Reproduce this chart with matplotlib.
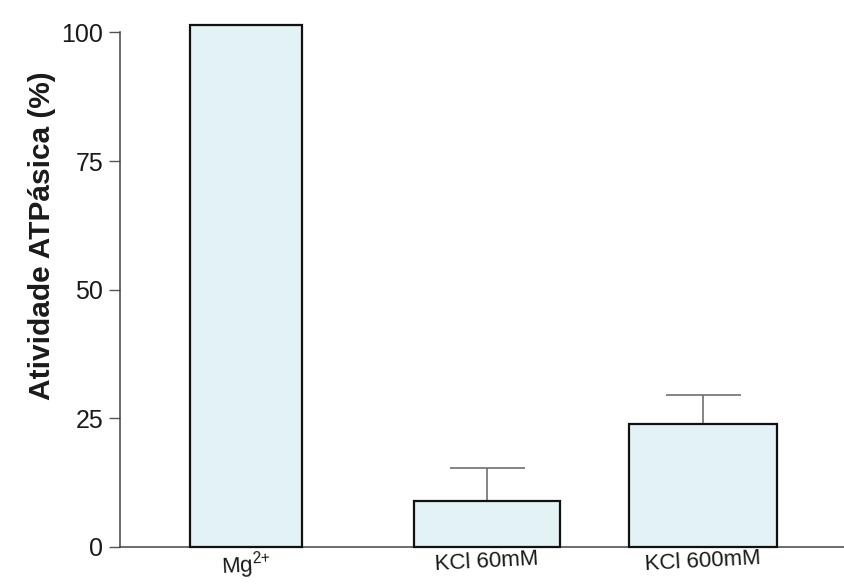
import matplotlib.pyplot as plt

plt.rcParams['font.family'] = ['Liberation Sans', 'DejaVu Sans']
plt.rcParams['mathtext.default'] = 'regular'

# data
categories = ['Mg$^{2{+}}$', 'KCl 60mM', 'KCl 600mM']
activity = [101.5, 9.0, 24.0]
sem = [0, 6.3, 5.6]
yticks = [0, 25, 50, 75, 100]

positions = [0, 1.055, 2.0]
widths = [0.49, 0.635, 0.65]

fig = plt.figure(figsize=(8.44, 5.85), dpi=100)
ax = fig.add_axes([120 / 844, 38 / 585, 724 / 844, 530 / 585])

ax.bar(positions, activity, width=widths, color='#e3f2f5',
       edgecolor='#111111', linewidth=1.6, zorder=3, clip_on=False)

for x, v, e in zip(positions, activity, sem):
    if e > 0:
        ax.errorbar(x, v, yerr=[[0], [e]], fmt='none', ecolor='#6f6f6f',
                    elinewidth=1.2, capsize=27, capthick=1.2, zorder=2)

ax.set_xlim(-0.551, 2.617)
ax.set_ylim(0, 103)
ax.set_yticks(yticks)
ax.set_yticklabels([str(t) for t in yticks], fontsize=18, color='#1a1a1a')
ax.tick_params(axis='y', length=8, width=1, color='#555555', pad=4)

ax.set_xticks(positions)
ax.set_xticklabels(categories, fontsize=16, rotation=3, color='#1a1a1a')
ax.tick_params(axis='x', length=0, pad=1)

ax.spines['top'].set_visible(False)
ax.spines['right'].set_visible(False)
ax.spines['left'].set_bounds(0, 100)
ax.spines['left'].set_color('#444444')
ax.spines['bottom'].set_color('#444444')
ax.spines['left'].set_linewidth(1.1)
ax.spines['bottom'].set_linewidth(1.1)

fig.text(42 / 844, 1 - 236 / 585, 'Atividade ATPásica (%)', rotation=90,
         ha='center', va='center', fontsize=21.5, fontweight='bold',
         color='#1a1a1a')

fig.savefig('out.png', dpi=100)
